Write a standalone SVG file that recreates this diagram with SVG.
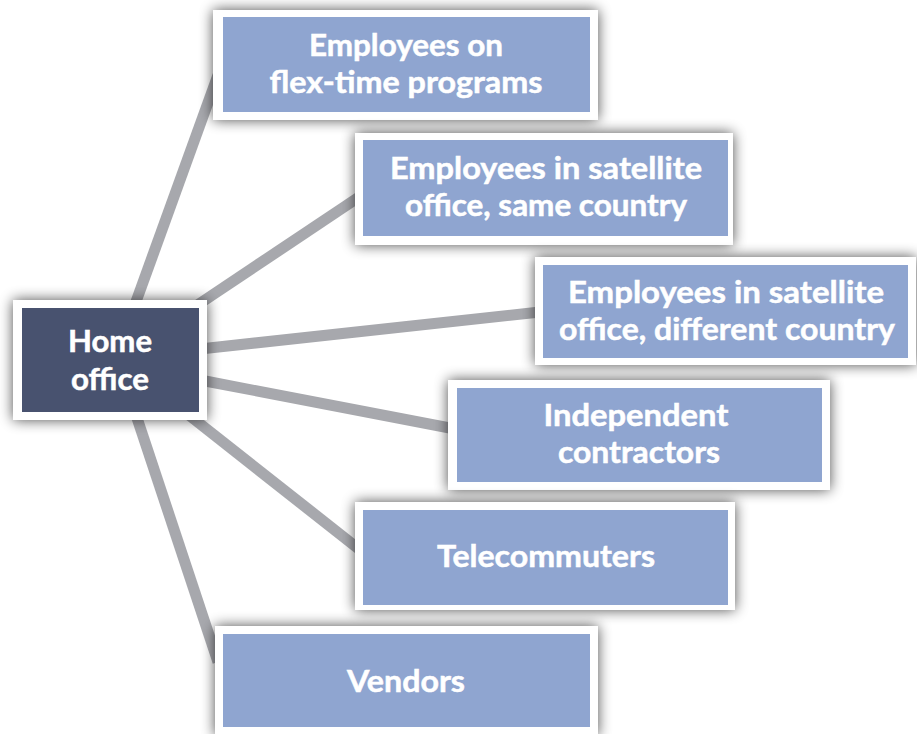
<svg xmlns="http://www.w3.org/2000/svg" width="917" height="734" viewBox="0 0 917 734">
<defs>
<filter id="sh" x="-20%" y="-30%" width="140%" height="160%">
<feGaussianBlur in="SourceAlpha" stdDeviation="7"/>
<feOffset dx="0" dy="0" result="b"/>
<feComponentTransfer><feFuncA type="linear" slope="0.7"/></feComponentTransfer>
<feMerge><feMergeNode/><feMergeNode in="SourceGraphic"/></feMerge>
</filter>
<style>
.frame{fill:#ffffff;filter:url(#sh)}
.box{fill:#8fa5d0}
.home{fill:#48526f}
.lbl{font-family:Lato,"Open Sans","Liberation Sans",sans-serif;font-weight:bold;font-size:30px;fill:#ffffff;stroke:#ffffff;stroke-width:0.5;text-anchor:middle}
.con{stroke:#a7a8ad;stroke-width:11;fill:none}
</style>
</defs>
<rect width="917" height="734" fill="#ffffff"/>
<g id="connectors">
<line class="con" x1="133" y1="310" x2="218" y2="75"/>
<line class="con" x1="190" y1="310" x2="362" y2="195"/>
<line class="con" x1="200" y1="349" x2="540" y2="312"/>
<line class="con" x1="200" y1="380" x2="455" y2="429"/>
<line class="con" x1="185" y1="412" x2="360" y2="550"/>
<line class="con" x1="135" y1="412" x2="218" y2="662"/>
</g>
<g id="home-office">
<rect class="frame" x="13" y="300" width="194" height="120"/>
<rect class="home" x="22" y="308" width="177" height="104"/>
<text class="lbl" x="110" y="352" textLength="84" lengthAdjust="spacingAndGlyphs">Home</text>
<text class="lbl" x="110" y="390" textLength="78" lengthAdjust="spacingAndGlyphs">office</text>
</g>
<g id="flex-time">
<rect class="frame" x="213" y="10" width="385" height="110"/>
<rect class="box" x="223" y="17" width="367" height="95"/>
<text class="lbl" x="406" y="56" textLength="194" lengthAdjust="spacingAndGlyphs">Employees on</text>
<text class="lbl" x="406" y="93" textLength="273" lengthAdjust="spacingAndGlyphs">flex-time programs</text>
</g>
<g id="satellite-same">
<rect class="frame" x="355" y="133" width="378" height="112"/>
<rect class="box" x="363" y="140" width="365" height="96"/>
<text class="lbl" x="546" y="179" textLength="312" lengthAdjust="spacingAndGlyphs">Employees in satellite</text>
<text class="lbl" x="546" y="216" textLength="282" lengthAdjust="spacingAndGlyphs">office, same country</text>
</g>
<g id="satellite-different">
<rect class="frame" x="535" y="257" width="381" height="108"/>
<rect class="box" x="543" y="265" width="365" height="93"/>
<text class="lbl" x="726" y="303" textLength="316" lengthAdjust="spacingAndGlyphs">Employees in satellite</text>
<text class="lbl" x="727" y="340" textLength="336" lengthAdjust="spacingAndGlyphs">office, different country</text>
</g>
<g id="contractors">
<rect class="frame" x="448" y="380" width="382" height="110"/>
<rect class="box" x="457" y="388" width="365" height="94"/>
<text class="lbl" x="636" y="426" textLength="185" lengthAdjust="spacingAndGlyphs">Independent</text>
<text class="lbl" x="639" y="463" textLength="162" lengthAdjust="spacingAndGlyphs">contractors</text>
</g>
<g id="telecommuters">
<rect class="frame" x="355" y="502" width="380" height="108"/>
<rect class="box" x="363" y="510" width="365" height="95"/>
<text class="lbl" x="546" y="567" textLength="218" lengthAdjust="spacingAndGlyphs">Telecommuters</text>
</g>
<g id="vendors">
<rect class="frame" x="215" y="626" width="383" height="110"/>
<rect class="box" x="223" y="634" width="367" height="93"/>
<text class="lbl" x="406" y="692" textLength="118" lengthAdjust="spacingAndGlyphs">Vendors</text>
</g>
</svg>
